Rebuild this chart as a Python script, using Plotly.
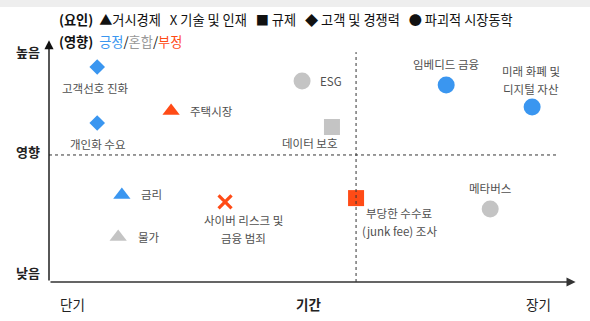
import plotly.graph_objects as go

# ---- data ----
names = ["고객선호 진화", "개인화 수요", "주택시장", "ESG", "데이터 보호", "임베디드 금융",
         "미래 화폐 및<br>디지털 자산", "금리", "물가", "사이버 리스크 및<br>금융 범죄",
         "부당한 수수료<br>(junk fee) 조사", "메타버스"]
period = [0.92, 0.92, 2.33, 4.83, 5.40, 7.58, 9.22, 1.39, 1.32, 3.36, 5.86, 8.42]
impact = [9.07, 6.71, 7.22, 8.48, 6.54, 8.31, 7.38, 3.67, 1.90, 3.38, 3.54, 3.08]
factor = ["고객", "고객", "거시", "파괴", "규제", "파괴", "파괴", "거시", "거시", "기술", "규제", "파괴"]
effect = ["긍정", "긍정", "부정", "혼합", "혼합", "긍정", "긍정", "긍정", "혼합", "부정", "부정", "혼합"]
mid_period = 5.86
mid_impact = 5.36

# ---- styles ----
BLUE = "#3A96F0"
RED = "#FF4B16"
GRAY = "#C4C4C4"
TXT = "#505050"
color_of = {"긍정": BLUE, "혼합": GRAY, "부정": RED}
symbol_of = {"거시": "triangle-up", "기술": "x-thin", "규제": "square", "고객": "diamond", "파괴": "circle"}
size_of = {"거시": 15, "기술": 13, "규제": 16, "고객": 12, "파괴": 17}
# label placement: (xshift px, yshift px, xanchor)
label_pos = [(-2, -21, "center"), (0, -21, "center"), (17, 0, "left"), (16, 0, "left"),
             (-22, -16, "center"), (0, 21, "center"), (-1, 27, "center"), (17, 1, "left"),
             (18, 0, "left"), (18, -27, "center"), (43, -24, "center"), (0, 21, "center")]

FONT = "Noto Sans CJK KR"
W, H = 590, 321
L, R, T, B = 49, 17, 45, 39

fig = go.Figure()
for i in range(len(names)):
    f = factor[i]
    c = color_of[effect[i]]
    marker = dict(symbol=symbol_of[f], size=size_of[f], color=c)
    if f == "기술":
        marker["line"] = dict(color=c, width=3.2)
    fig.add_trace(go.Scatter(x=[period[i]], y=[impact[i]], mode="markers", marker=marker,
                             showlegend=False, hoverinfo="skip"))
    dx, dy, xa = label_pos[i]
    lines = names[i].split("<br>")
    n = len(lines)
    for k, ln in enumerate(lines):
        off = (k - (n - 1) / 2) * 18
        fig.add_annotation(x=period[i], y=impact[i], xref="x", yref="y", text=ln, showarrow=False,
                           xanchor=xa, yanchor="middle", xshift=dx, yshift=dy - off,
                           font=dict(family=FONT, size=11.5, color=TXT))

# mid dashed lines
fig.add_shape(type="line", xref="x", yref="y", x0=0, x1=9.7, y0=mid_impact, y1=mid_impact,
              line=dict(color="#333333", width=1, dash="3px,3px"))
fig.add_shape(type="line", xref="x", yref="y", x0=mid_period, x1=mid_period, y0=0, y1=9.7,
              line=dict(color="#333333", width=1, dash="3px,3px"))

# axes with arrows
fig.add_annotation(x=0, y=10.2, ax=0, ay=0, xref="x", yref="y", axref="x", ayref="y", text="",
                   showarrow=True, arrowhead=2, arrowsize=1.3, arrowwidth=1.4, arrowcolor="#111111")
fig.add_annotation(x=10.05, y=0, ax=0, ay=0, xref="x", yref="y", axref="x", ayref="y", text="",
                   showarrow=True, arrowhead=2, arrowsize=1.3, arrowwidth=1.4, arrowcolor="#333333")

def ptxt(px, py, text, bold=False, size=13, anchor="center", color="#222222"):
    fig.add_annotation(x=(px - L) / (W - L - R), y=1 - (py - T) / (H - T - B), xref="paper", yref="paper",
                       text=("<b>%s</b>" % text) if bold else text, showarrow=False,
                       xanchor=anchor, yanchor="middle", font=dict(family=FONT, size=size, color=color))

ptxt(28, 51, "높음", bold=True)
ptxt(28, 151, "영향", bold=True)
ptxt(28, 272, "낮음", bold=True)
ptxt(72, 304, "단기", size=13.5)
ptxt(308, 304, "기간", bold=True, size=13.5)
ptxt(538, 304, "장기", size=13.5)

# legend text
ptxt(57, 20, "<b>(요인)</b>  ▲거시경제   X 기술 및 인재   ■ 규제   ◆ 고객 및 경쟁력   ● 파괴적 시장동학",
     size=13.2, anchor="left", color="#111111")
ptxt(57, 41, "<b>(영향)</b>  <span style='color:%s'>긍정</span>/<span style='color:#999999'>혼합</span>/<span style='color:%s'>부정</span>" % (BLUE, RED),
     size=13.2, anchor="left", color="#111111")

# top gray strip
fig.add_shape(type="rect", xref="paper", yref="paper", x0=-L / (W - L - R), x1=1 + R / (W - L - R),
              y0=1 + (T - 7) / (H - T - B), y1=1 + T / (H - T - B), fillcolor="#EEEEEE", line_width=0, layer="below")

fig.update_layout(width=W, height=H, margin=dict(l=L, r=R, t=T, b=B),
                  plot_bgcolor="white", paper_bgcolor="white",
                  xaxis=dict(range=[0, 10], visible=False, fixedrange=True),
                  yaxis=dict(range=[0, 10], visible=False, fixedrange=True))
fig.write_html("out.html")
